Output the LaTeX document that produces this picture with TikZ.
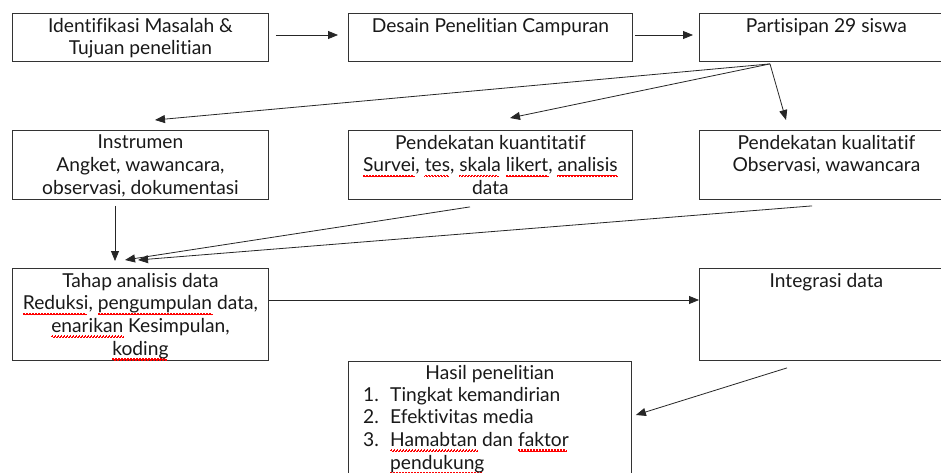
\documentclass[tikz,border=0pt]{standalone}
\usepackage{fontspec}
\setmainfont{Lato}[Ligatures={NoCommon}]
\usetikzlibrary{arrows.meta,calc}
\newsavebox\sqbox
\newcommand\sqwave{\hbox to 3pt{\setlength\unitlength{1pt}\begin{picture}(3,0)\color{red}\linethickness{0.6pt}\qbezier(0,0)(0.75,1.6)(1.5,0)\qbezier(1.5,0)(2.25,-1.6)(3,0)\end{picture}}}
\newcommand\sqw[1]{\sbox\sqbox{#1}\rlap{\raisebox{-4pt}[0pt][0pt]{\leaders\sqwave\hskip\wd\sqbox}}\usebox\sqbox}
\begin{document}
\begin{tikzpicture}[x=1pt,y=-1pt,
  every node/.style={font=\fontsize{19.2}{22.6}\selectfont,text=black!90},
  box/.style={draw=black!80,line width=0.9pt,anchor=north west,inner sep=0pt},
  txt/.style={anchor=north,align=center,inner sep=0pt,yshift=-5pt},
  conn/.style={-{Triangle[length=10pt,width=8pt]},line width=0.8pt,black!85}]
\useasboundingbox (0,0) rectangle (941,473);
\clip (0,0) rectangle (941,473);
\fill[white] (0,0) rectangle (941,473);
% row 1
\node[box,minimum width=256pt,minimum height=48pt] (n1) at (12,13) {};
\node[txt] (t1) at (n1.north) {Identifikasi Masalah \&\\Tujuan penelitian};
\node[box,minimum width=284pt,minimum height=48pt] (n2) at (348,13) {};
\node[txt] (t2) at (n2.north) {Desain Penelitian Campuran};
\node[box,minimum width=254pt,minimum height=48pt] (n3) at (699,13) {};
\node[txt] (t3) at (n3.north) {Partisipan 29 siswa};
% row 2
\node[box,minimum width=256pt,minimum height=69pt] (n4) at (12,130) {};
\node[txt] (t4) at (n4.north) {Instrumen\\Angket, wawancara,\\observasi, dokumentasi};
\node[box,minimum width=284pt,minimum height=69pt] (n5) at (348,130) {};
\node[txt] (t5) at (n5.north) {Pendekatan kuantitatif\\\sqw{Survei}, \sqw{tes}, \sqw{skala} \sqw{likert}, \sqw{analisis}\\data};
\node[box,minimum width=254pt,minimum height=69pt] (n6) at (699,130) {};
\node[txt] (t6) at (n6.north) {Pendekatan kualitatif\\Observasi, wawancara};
% row 3
\node[box,minimum width=256pt,minimum height=92pt] (n7) at (12,268) {};
\node[txt] (t7) at (n7.north) {Tahap analisis data\\\sqw{Reduksi}, \sqw{pengumpulan} data,\\\sqw{enarikan} Kesimpulan,\\\sqw{koding}};
\node[box,minimum width=254pt,minimum height=92pt] (n8) at (699,268) {};
\node[txt] (t8) at (n8.north) {Integrasi data};
\node[box,minimum width=283pt,minimum height=130pt] (n9) at (348,361) {};
\node[txt,yshift=1pt] (t9) at (n9.north) {Hasil penelitian};
\node[anchor=north west,align=left,inner sep=0pt] (l9) at (363,387)
  {\makebox[27pt][l]{1.}Tingkat kemandirian\\\makebox[27pt][l]{2.}Efektivitas media\\\makebox[27pt][l]{3.}\sqw{Hamabtan} dan \sqw{faktor}\\\makebox[27pt][l]{}\sqw{pendukung}};
% connectors
\coordinate (p3) at ([xshift=71pt,yshift=-2pt]n3.south west);
\draw[conn] ([xshift=7pt]n1.east |- 0,35) -- ([xshift=-10pt]n2.west |- 0,35);
\draw[conn] ([xshift=2pt]n2.east |- 0,35) -- ([xshift=-6pt]n3.west |- 0,35);
\draw[conn] (p3) -- ([xshift=143pt,yshift=10pt]n4.north west);
\draw[conn] (p3) -- ([xshift=162pt,yshift=12pt]n5.north west);
\draw[conn] (p3) -- ([xshift=87pt,yshift=10pt]n6.north west);
\draw[conn] ([xshift=103pt,yshift=-6pt]n4.south west) -- ([xshift=103pt,yshift=7pt]n7.north west);
\draw[conn] ([xshift=122pt,yshift=-7pt]n5.south west) -- ([xshift=113pt,yshift=8pt]n7.north west);
\draw[conn] ([xshift=113pt,yshift=-6pt]n6.south west) -- ([xshift=126pt,yshift=8pt]n7.north west);
\draw[conn] (n7.east |- 0,300) -- (n8.west |- 0,300);
\draw[conn] ([xshift=88pt,yshift=-7pt]n8.south west) -- ([xshift=4pt,yshift=-54pt]n9.north east);
\end{tikzpicture}
\end{document}
